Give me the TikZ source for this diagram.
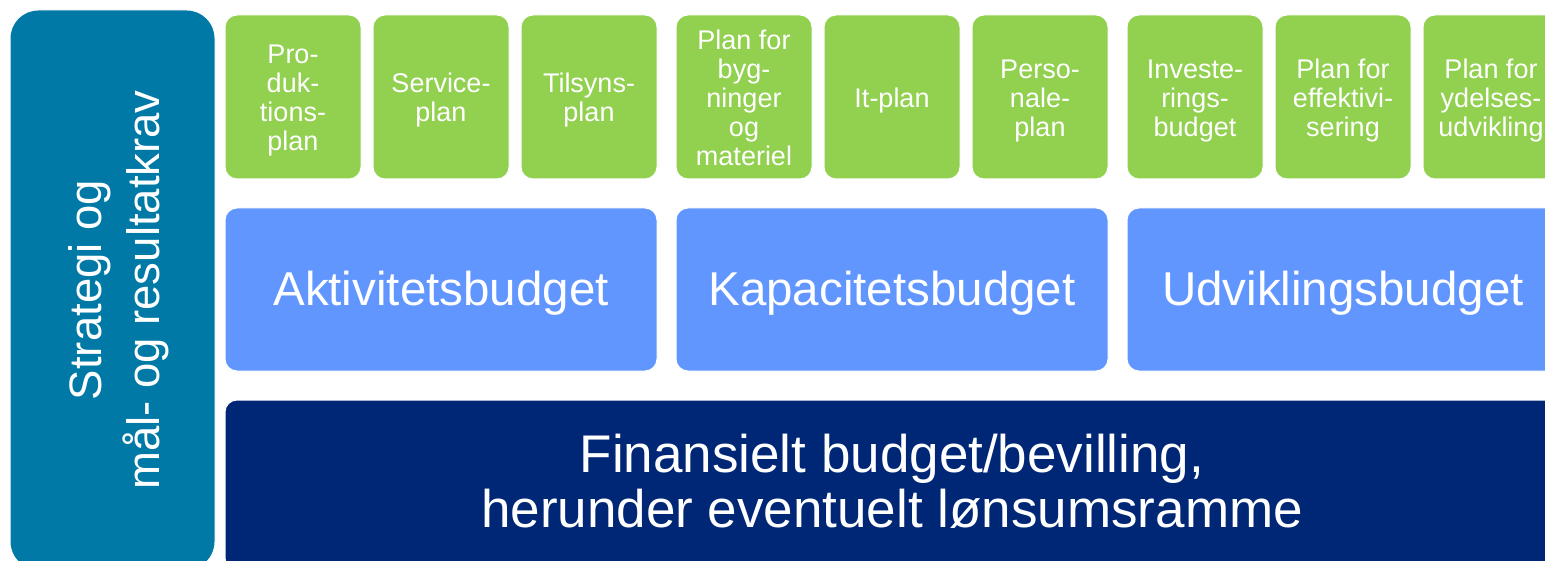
\documentclass[tikz,border=0pt]{standalone}
\usepackage{fontspec}
\setmainfont{Liberation Sans}
\definecolor{greenbox}{HTML}{92D050}
\definecolor{bluebox}{HTML}{6196FF}
\definecolor{navybox}{HTML}{002776}
\definecolor{tealbox}{HTML}{0079A6}
\newcommand{\lowered}[2]{\raisebox{-#1}[\height][\depth]{\begin{tabular}{@{}c@{}}#2\end{tabular}}}
\begin{document}
\begin{tikzpicture}[x=1pt,y=-1pt,
  base/.style={draw=white, line width=1pt, text=white, inner sep=0pt},
  planbox/.style={base, fill=greenbox, rounded corners=12pt, minimum width=136pt, minimum height=164pt,
    font=\fontsize{27}{29}\selectfont},
  budgetbox/.style={base, fill=bluebox, rounded corners=12pt, minimum width=432pt, minimum height=163pt,
    font=\fontsize{47.5}{52}\selectfont},
  finbox/.style={base, fill=navybox, rounded corners=12pt, minimum width=1334pt, minimum height=170pt,
    font=\fontsize{53}{55}\selectfont},
  stratbox/.style={base, fill=tealbox, rounded corners=28pt, minimum width=560pt, minimum height=205pt,
    font=\fontsize{45.5}{58}\selectfont}]
\useasboundingbox (0,0) rectangle (1545,561);
\clip (0,0) rectangle (1545,561);
% left strategy box
\node[stratbox, rotate=90] (strat) at (112.5,290) {\lowered{6pt}{Strategi og\\mål- og resultatkrav}};
% green plan boxes
\node[planbox] (p1) at (293,97) {\lowered{4.5pt}{Pro-\\duk-\\tions-\\plan}};
\node[planbox] (p2) at (441,97) {\lowered{4.5pt}{Service-\\plan}};
\node[planbox] (p3) at (589,97) {\lowered{4.5pt}{Tilsyns-\\plan}};
\node[planbox] (p4) at (744,97) {\lowered{4.5pt}{Plan for\\byg-\\ninger\\og\\materiel}};
\node[planbox] (p5) at (892,97) {\lowered{4.5pt}{It-plan}};
\node[planbox] (p6) at (1040,97) {\lowered{4.5pt}{Perso-\\nale-\\plan}};
\node[planbox] (p7) at (1195,97) {\lowered{4.5pt}{Investe-\\rings-\\budget}};
\node[planbox] (p8) at (1343,97) {\lowered{4.5pt}{Plan for\\effektivi-\\sering}};
\node[planbox] (p9) at (1491,97) {\lowered{4.5pt}{Plan for\\ydelses-\\udvikling}};
% blue budget boxes
\node[budgetbox] (akt) at (441,289.5) {\lowered{6pt}{Aktivitetsbudget}};
\node[budgetbox] (kap) at (892,289.5) {\lowered{6pt}{Kapacitetsbudget}};
\node[budgetbox] (udv) at (1343,289.5) {\lowered{6pt}{Udviklingsbudget}};
% navy finance box
\node[finbox] (fin) at (892,485) {\lowered{4pt}{Finansielt budget/bevilling,\\herunder eventuelt lønsumsramme}};
\end{tikzpicture}
\end{document}
